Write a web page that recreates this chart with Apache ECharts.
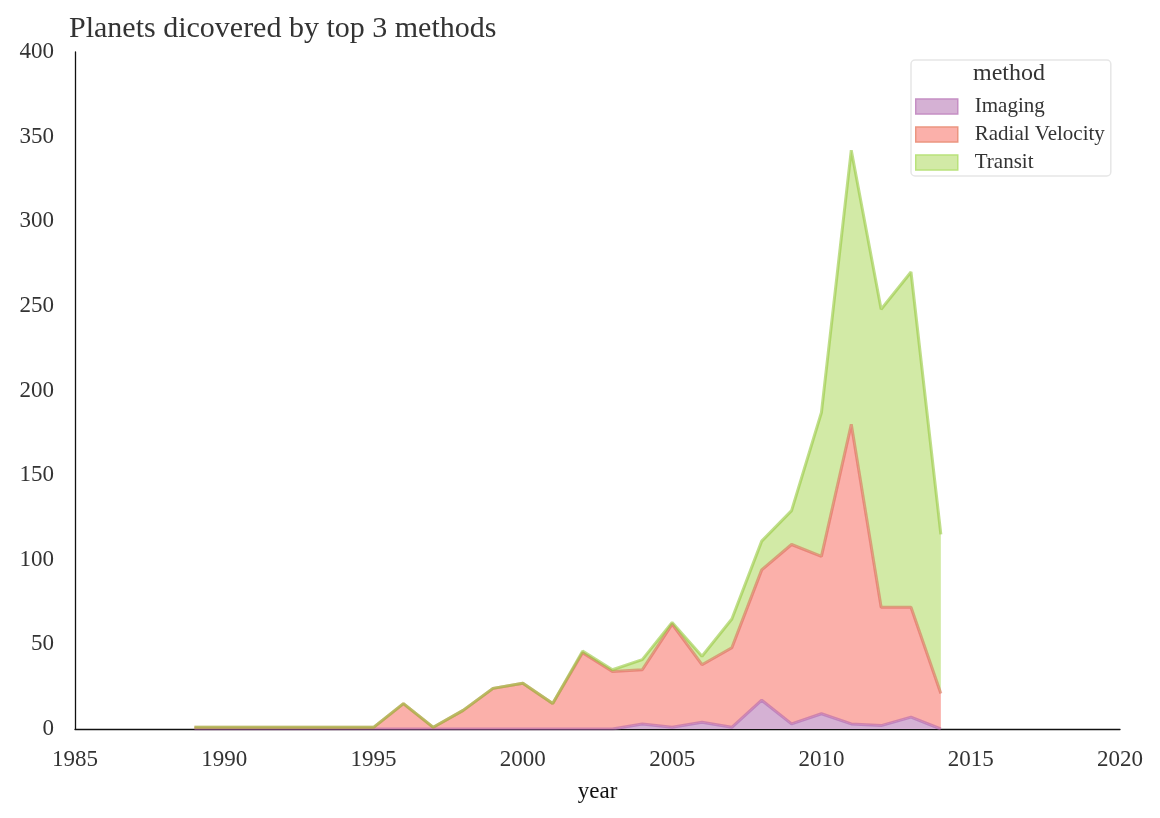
<!DOCTYPE html>
<html>
<head>
<meta charset="utf-8">
<title>Planets dicovered by top 3 methods</title>
<script src="https://cdn.jsdelivr.net/npm/echarts@6/dist/echarts.min.js"></script>
<style>
  html, body { margin: 0; padding: 0; background: #fff; }
  #chart { width: 1160px; height: 818px; }
</style>
</head>
<body>
<div id="chart"></div>
<script>
// years that have data
var years = [1989, 1990, 1991, 1992, 1993, 1994, 1995, 1996, 1997, 1998, 1999, 2000, 2001,
             2002, 2003, 2004, 2005, 2006, 2007, 2008, 2009, 2010, 2011, 2012, 2013, 2014];

// planets per year, per method
var imaging =        [0, 0, 0, 0, 0, 0, 0, 0, 0, 0, 0, 0, 0,
                      0, 0, 3, 1, 4, 1, 17, 3, 9, 3, 2, 7, 0];
var radialVelocity = [1, 1, 1, 1, 1, 1, 1, 15, 1, 11, 24, 27, 15,
                      45, 34, 32, 61, 34, 47, 77, 106, 93, 177, 70, 65, 21];
var transit =        [0, 0, 0, 0, 0, 0, 0, 0, 0, 0, 0, 0, 0,
                      1, 1, 6, 1, 5, 17, 17, 20, 85, 162, 176, 198, 94];

var methods = ['Imaging', 'Radial Velocity', 'Transit'];
var xStart = 1985, xEnd = 2020;
var yTicks = [0, 50, 100, 150, 200, 250, 300, 350, 400];

var fillColors = ['#d5b1d4', '#fbb0aa', '#d2eaa6'];
// semi-transparent edges, so overlapping edges blend like the original
var lineColors = ['rgba(175,95,172,0.55)', 'rgba(218,100,80,0.55)', 'rgba(150,200,62,0.6)'];
var legendEdges = ['#c58fc4', '#eb9580', '#b9e27b'];
var font = 'Liberation Serif';

// full year axis 1985..2020, only every 5th labelled
var xCats = [];
for (var yr = xStart; yr <= xEnd; yr++) xCats.push(String(yr));

function fullRow(values) {
    return xCats.map(function (c) {
        var i = years.indexOf(+c);
        return i >= 0 ? values[i] : '-';
    });
}

// filled band, stacked
function areaSeries(name, values, idx) {
    return {
        name: name,
        type: 'line',
        stack: 'area',
        data: fullRow(values),
        showSymbol: false,
        symbol: 'none',
        z: 2,
        lineStyle: { width: 0 },
        itemStyle: { color: fillColors[idx] },
        areaStyle: { color: fillColors[idx], opacity: 1 },
        emphasis: { disabled: true }
    };
}

// outline drawn on top of all the fills
function edgeSeries(name, values, idx) {
    return {
        name: name + ' edge',
        type: 'line',
        stack: 'edge',
        data: fullRow(values),
        showSymbol: false,
        symbol: 'none',
        z: 5,
        lineStyle: { color: lineColors[idx], width: 3 },
        emphasis: { disabled: true }
    };
}

var chart = echarts.init(document.getElementById('chart'));

var option = {
    animation: false,
    backgroundColor: '#fff',
    textStyle: { fontFamily: font },
    title: {
        text: 'Planets dicovered by top 3 methods',
        left: 64,
        top: 9,
        textStyle: { fontFamily: font, fontSize: 30, fontWeight: 'normal', color: '#333' }
    },
    graphic: [{
        type: 'text',
        left: 973,
        top: 62,
        style: { text: 'method', font: '24px "Liberation Serif"', fill: '#333' }
    }],
    legend: {
        orient: 'vertical',
        left: 911,
        top: 60,
        padding: [36, 6, 3, 4],
        itemGap: 7,
        itemWidth: 42,
        itemHeight: 15,
        icon: 'rect',
        borderColor: '#e6e6e6',
        borderWidth: 1.5,
        borderRadius: 4,
        textStyle: { fontFamily: font, fontSize: 21, color: '#333', padding: [0, 0, 0, 12] },
        data: methods.map(function (m, i) {
            return { name: m, itemStyle: { color: fillColors[i], borderColor: legendEdges[i], borderWidth: 1.5 } };
        })
    },
    grid: { left: 75, right: 40, top: 52, bottom: 89 },
    xAxis: {
        type: 'category',
        data: xCats,
        boundaryGap: false,
        name: 'year',
        nameLocation: 'middle',
        nameGap: 51,
        nameTextStyle: { fontFamily: font, fontSize: 23, color: '#111' },
        axisLine: { lineStyle: { color: '#111', width: 1.3 } },
        axisTick: { show: false },
        splitLine: { show: false },
        axisLabel: { interval: 4, fontFamily: font, fontSize: 23, color: '#333', margin: 19 }
    },
    yAxis: {
        type: 'value',
        min: yTicks[0],
        max: yTicks[yTicks.length - 1],
        interval: 50,
        axisLine: { show: true, lineStyle: { color: '#111', width: 1.3 } },
        axisTick: { show: false },
        splitLine: { show: false },
        axisLabel: { fontFamily: font, fontSize: 23, color: '#333', margin: 21 }
    },
    series: [
        areaSeries(methods[0], imaging, 0),
        areaSeries(methods[1], radialVelocity, 1),
        areaSeries(methods[2], transit, 2),
        edgeSeries(methods[0], imaging, 0),
        edgeSeries(methods[1], radialVelocity, 1),
        edgeSeries(methods[2], transit, 2)
    ]
};

chart.setOption(option);
</script>
</body>
</html>
